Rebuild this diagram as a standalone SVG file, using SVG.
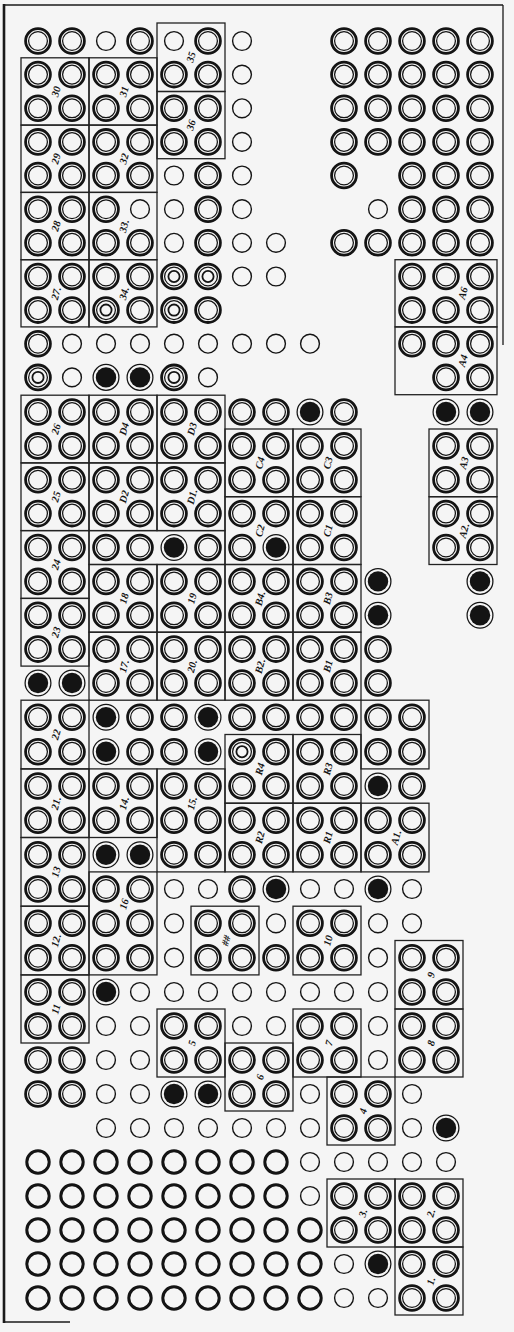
<svg xmlns="http://www.w3.org/2000/svg" width="514" height="1332" viewBox="0 0 514 1332">
<style>
.k{fill:none;stroke:#141414;stroke-width:2.8}
.t{fill:none;stroke:#141414;stroke-width:1.25}
.s{fill:none;stroke:#141414;stroke-width:1.4}
.m{fill:none;stroke:#141414;stroke-width:1.8}
.b{fill:none;stroke:#141414;stroke-width:3}
.bx{fill:none;stroke:#222;stroke-width:1.3}
.lb{font-family:"Liberation Serif","DejaVu Serif",serif;font-size:10.5px;font-style:italic;font-weight:bold;fill:#151515;text-anchor:middle;dominant-baseline:central}
.fr{fill:none;stroke:#1a1a1a}
</style>
<defs>
<g id="D"><circle r="12.4" class="k"/><circle r="9.4" class="t"/></g>
<g id="S"><circle r="9.4" class="s"/></g>
<g id="F"><circle r="12.9" class="t"/><circle r="10.2" fill="#141414"/></g>
<g id="T"><circle r="12.4" class="k"/><circle r="9.4" class="t"/><circle r="5.6" class="m"/></g>
<g id="B"><circle r="11.2" class="b"/></g>
</defs>
<rect width="514" height="1332" fill="#f5f5f5"/>
<g id="frame">
<line x1="4" y1="5" x2="503" y2="5" class="fr" stroke-width="1.5"/>
<line x1="4" y1="4" x2="4" y2="1323" class="fr" stroke-width="2.6"/>
<line x1="503" y1="5" x2="503" y2="345" class="fr" stroke-width="1.3"/>
<line x1="4" y1="1322" x2="70" y2="1322" class="fr" stroke-width="1.5"/>
</g>
<g id="grid">
<g transform="translate(0,41)"><use href="#D" x="38"/><use href="#D" x="72"/><use href="#S" x="106"/><use href="#D" x="140"/><use href="#S" x="174"/><use href="#D" x="208"/><use href="#S" x="242"/><use href="#D" x="344"/><use href="#D" x="378"/><use href="#D" x="412"/><use href="#D" x="446"/><use href="#D" x="480"/></g>
<g transform="translate(0,74.6)"><use href="#D" x="38"/><use href="#D" x="72"/><use href="#D" x="106"/><use href="#D" x="140"/><use href="#D" x="174"/><use href="#D" x="208"/><use href="#S" x="242"/><use href="#D" x="344"/><use href="#D" x="378"/><use href="#D" x="412"/><use href="#D" x="446"/><use href="#D" x="480"/></g>
<g transform="translate(0,108.3)"><use href="#D" x="38"/><use href="#D" x="72"/><use href="#D" x="106"/><use href="#D" x="140"/><use href="#D" x="174"/><use href="#D" x="208"/><use href="#S" x="242"/><use href="#D" x="344"/><use href="#D" x="378"/><use href="#D" x="412"/><use href="#D" x="446"/><use href="#D" x="480"/></g>
<g transform="translate(0,141.9)"><use href="#D" x="38"/><use href="#D" x="72"/><use href="#D" x="106"/><use href="#D" x="140"/><use href="#D" x="174"/><use href="#D" x="208"/><use href="#S" x="242"/><use href="#D" x="344"/><use href="#D" x="378"/><use href="#D" x="412"/><use href="#D" x="446"/><use href="#D" x="480"/></g>
<g transform="translate(0,175.5)"><use href="#D" x="38"/><use href="#D" x="72"/><use href="#D" x="106"/><use href="#D" x="140"/><use href="#S" x="174"/><use href="#D" x="208"/><use href="#S" x="242"/><use href="#D" x="344"/><use href="#D" x="412"/><use href="#D" x="446"/><use href="#D" x="480"/></g>
<g transform="translate(0,209.2)"><use href="#D" x="38"/><use href="#D" x="72"/><use href="#D" x="106"/><use href="#S" x="140"/><use href="#S" x="174"/><use href="#D" x="208"/><use href="#S" x="242"/><use href="#S" x="378"/><use href="#D" x="412"/><use href="#D" x="446"/><use href="#D" x="480"/></g>
<g transform="translate(0,242.8)"><use href="#D" x="38"/><use href="#D" x="72"/><use href="#D" x="106"/><use href="#D" x="140"/><use href="#S" x="174"/><use href="#D" x="208"/><use href="#S" x="242"/><use href="#S" x="276"/><use href="#D" x="344"/><use href="#D" x="378"/><use href="#D" x="412"/><use href="#D" x="446"/><use href="#D" x="480"/></g>
<g transform="translate(0,276.5)"><use href="#D" x="38"/><use href="#D" x="72"/><use href="#D" x="106"/><use href="#D" x="140"/><use href="#T" x="174"/><use href="#T" x="208"/><use href="#S" x="242"/><use href="#S" x="276"/><use href="#D" x="412"/><use href="#D" x="446"/><use href="#D" x="480"/></g>
<g transform="translate(0,310.1)"><use href="#D" x="38"/><use href="#D" x="72"/><use href="#T" x="106"/><use href="#D" x="140"/><use href="#T" x="174"/><use href="#D" x="208"/><use href="#D" x="412"/><use href="#D" x="446"/><use href="#D" x="480"/></g>
<g transform="translate(0,343.7)"><use href="#D" x="38"/><use href="#S" x="72"/><use href="#S" x="106"/><use href="#S" x="140"/><use href="#S" x="174"/><use href="#S" x="208"/><use href="#S" x="242"/><use href="#S" x="276"/><use href="#S" x="310"/><use href="#D" x="412"/><use href="#D" x="446"/><use href="#D" x="480"/></g>
<g transform="translate(0,377.4)"><use href="#T" x="38"/><use href="#S" x="72"/><use href="#F" x="106"/><use href="#F" x="140"/><use href="#T" x="174"/><use href="#S" x="208"/><use href="#D" x="446"/><use href="#D" x="480"/></g>
<g transform="translate(0,412)"><use href="#D" x="38"/><use href="#D" x="72"/><use href="#D" x="106"/><use href="#D" x="140"/><use href="#D" x="174"/><use href="#D" x="208"/><use href="#D" x="242"/><use href="#D" x="276"/><use href="#F" x="310"/><use href="#D" x="344"/><use href="#F" x="446"/><use href="#F" x="480"/></g>
<g transform="translate(0,445.9)"><use href="#D" x="38"/><use href="#D" x="72"/><use href="#D" x="106"/><use href="#D" x="140"/><use href="#D" x="174"/><use href="#D" x="208"/><use href="#D" x="242"/><use href="#D" x="276"/><use href="#D" x="310"/><use href="#D" x="344"/><use href="#D" x="446"/><use href="#D" x="480"/></g>
<g transform="translate(0,479.8)"><use href="#D" x="38"/><use href="#D" x="72"/><use href="#D" x="106"/><use href="#D" x="140"/><use href="#D" x="174"/><use href="#D" x="208"/><use href="#D" x="242"/><use href="#D" x="276"/><use href="#D" x="310"/><use href="#D" x="344"/><use href="#D" x="446"/><use href="#D" x="480"/></g>
<g transform="translate(0,513.6)"><use href="#D" x="38"/><use href="#D" x="72"/><use href="#D" x="106"/><use href="#D" x="140"/><use href="#D" x="174"/><use href="#D" x="208"/><use href="#D" x="242"/><use href="#D" x="276"/><use href="#D" x="310"/><use href="#D" x="344"/><use href="#D" x="446"/><use href="#D" x="480"/></g>
<g transform="translate(0,547.5)"><use href="#D" x="38"/><use href="#D" x="72"/><use href="#D" x="106"/><use href="#D" x="140"/><use href="#F" x="174"/><use href="#D" x="208"/><use href="#D" x="242"/><use href="#F" x="276"/><use href="#D" x="310"/><use href="#D" x="344"/><use href="#D" x="446"/><use href="#D" x="480"/></g>
<g transform="translate(0,581.4)"><use href="#D" x="38"/><use href="#D" x="72"/><use href="#D" x="106"/><use href="#D" x="140"/><use href="#D" x="174"/><use href="#D" x="208"/><use href="#D" x="242"/><use href="#D" x="276"/><use href="#D" x="310"/><use href="#D" x="344"/><use href="#F" x="378"/><use href="#F" x="480"/></g>
<g transform="translate(0,615.3)"><use href="#D" x="38"/><use href="#D" x="72"/><use href="#D" x="106"/><use href="#D" x="140"/><use href="#D" x="174"/><use href="#D" x="208"/><use href="#D" x="242"/><use href="#D" x="276"/><use href="#D" x="310"/><use href="#D" x="344"/><use href="#F" x="378"/><use href="#F" x="480"/></g>
<g transform="translate(0,649.1)"><use href="#D" x="38"/><use href="#D" x="72"/><use href="#D" x="106"/><use href="#D" x="140"/><use href="#D" x="174"/><use href="#D" x="208"/><use href="#D" x="242"/><use href="#D" x="276"/><use href="#D" x="310"/><use href="#D" x="344"/><use href="#D" x="378"/></g>
<g transform="translate(0,683)"><use href="#F" x="38"/><use href="#F" x="72"/><use href="#D" x="106"/><use href="#D" x="140"/><use href="#D" x="174"/><use href="#D" x="208"/><use href="#D" x="242"/><use href="#D" x="276"/><use href="#D" x="310"/><use href="#D" x="344"/><use href="#D" x="378"/></g>
<g transform="translate(0,717.3)"><use href="#D" x="38"/><use href="#D" x="72"/><use href="#F" x="106"/><use href="#D" x="140"/><use href="#D" x="174"/><use href="#F" x="208"/><use href="#D" x="242"/><use href="#D" x="276"/><use href="#D" x="310"/><use href="#D" x="344"/><use href="#D" x="378"/><use href="#D" x="412"/></g>
<g transform="translate(0,751.7)"><use href="#D" x="38"/><use href="#D" x="72"/><use href="#F" x="106"/><use href="#D" x="140"/><use href="#D" x="174"/><use href="#F" x="208"/><use href="#T" x="242"/><use href="#D" x="276"/><use href="#D" x="310"/><use href="#D" x="344"/><use href="#D" x="378"/><use href="#D" x="412"/></g>
<g transform="translate(0,786)"><use href="#D" x="38"/><use href="#D" x="72"/><use href="#D" x="106"/><use href="#D" x="140"/><use href="#D" x="174"/><use href="#D" x="208"/><use href="#D" x="242"/><use href="#D" x="276"/><use href="#D" x="310"/><use href="#D" x="344"/><use href="#F" x="378"/><use href="#D" x="412"/></g>
<g transform="translate(0,820.3)"><use href="#D" x="38"/><use href="#D" x="72"/><use href="#D" x="106"/><use href="#D" x="140"/><use href="#D" x="174"/><use href="#D" x="208"/><use href="#D" x="242"/><use href="#D" x="276"/><use href="#D" x="310"/><use href="#D" x="344"/><use href="#D" x="378"/><use href="#D" x="412"/></g>
<g transform="translate(0,854.7)"><use href="#D" x="38"/><use href="#D" x="72"/><use href="#F" x="106"/><use href="#F" x="140"/><use href="#D" x="174"/><use href="#D" x="208"/><use href="#D" x="242"/><use href="#D" x="276"/><use href="#D" x="310"/><use href="#D" x="344"/><use href="#D" x="378"/><use href="#D" x="412"/></g>
<g transform="translate(0,889)"><use href="#D" x="38"/><use href="#D" x="72"/><use href="#D" x="106"/><use href="#D" x="140"/><use href="#S" x="174"/><use href="#S" x="208"/><use href="#D" x="242"/><use href="#F" x="276"/><use href="#S" x="310"/><use href="#S" x="344"/><use href="#F" x="378"/><use href="#S" x="412"/></g>
<g transform="translate(0,923.3)"><use href="#D" x="38"/><use href="#D" x="72"/><use href="#D" x="106"/><use href="#D" x="140"/><use href="#S" x="174"/><use href="#D" x="208"/><use href="#D" x="242"/><use href="#S" x="276"/><use href="#D" x="310"/><use href="#D" x="344"/><use href="#S" x="378"/><use href="#S" x="412"/></g>
<g transform="translate(0,957.7)"><use href="#D" x="38"/><use href="#D" x="72"/><use href="#D" x="106"/><use href="#D" x="140"/><use href="#S" x="174"/><use href="#D" x="208"/><use href="#D" x="242"/><use href="#D" x="276"/><use href="#D" x="310"/><use href="#D" x="344"/><use href="#S" x="378"/><use href="#D" x="412"/><use href="#D" x="446"/></g>
<g transform="translate(0,992)"><use href="#D" x="38"/><use href="#D" x="72"/><use href="#F" x="106"/><use href="#S" x="140"/><use href="#S" x="174"/><use href="#S" x="208"/><use href="#S" x="242"/><use href="#S" x="276"/><use href="#S" x="310"/><use href="#S" x="344"/><use href="#S" x="378"/><use href="#D" x="412"/><use href="#D" x="446"/></g>
<g transform="translate(0,1026)"><use href="#D" x="38"/><use href="#D" x="72"/><use href="#S" x="106"/><use href="#S" x="140"/><use href="#D" x="174"/><use href="#D" x="208"/><use href="#S" x="242"/><use href="#S" x="276"/><use href="#D" x="310"/><use href="#D" x="344"/><use href="#S" x="378"/><use href="#D" x="412"/><use href="#D" x="446"/></g>
<g transform="translate(0,1060)"><use href="#D" x="38"/><use href="#D" x="72"/><use href="#S" x="106"/><use href="#S" x="140"/><use href="#D" x="174"/><use href="#D" x="208"/><use href="#D" x="242"/><use href="#D" x="276"/><use href="#D" x="310"/><use href="#D" x="344"/><use href="#S" x="378"/><use href="#D" x="412"/><use href="#D" x="446"/></g>
<g transform="translate(0,1094)"><use href="#D" x="38"/><use href="#D" x="72"/><use href="#S" x="106"/><use href="#S" x="140"/><use href="#F" x="174"/><use href="#F" x="208"/><use href="#D" x="242"/><use href="#D" x="276"/><use href="#S" x="310"/><use href="#D" x="344"/><use href="#D" x="378"/><use href="#S" x="412"/></g>
<g transform="translate(0,1128)"><use href="#S" x="106"/><use href="#S" x="140"/><use href="#S" x="174"/><use href="#S" x="208"/><use href="#S" x="242"/><use href="#S" x="276"/><use href="#S" x="310"/><use href="#D" x="344"/><use href="#D" x="378"/><use href="#S" x="412"/><use href="#F" x="446"/></g>
<g transform="translate(0,1162)"><use href="#B" x="38"/><use href="#B" x="72"/><use href="#B" x="106"/><use href="#B" x="140"/><use href="#B" x="174"/><use href="#B" x="208"/><use href="#B" x="242"/><use href="#B" x="276"/><use href="#S" x="310"/><use href="#S" x="344"/><use href="#S" x="378"/><use href="#S" x="412"/><use href="#S" x="446"/></g>
<g transform="translate(0,1196)"><use href="#B" x="38"/><use href="#B" x="72"/><use href="#B" x="106"/><use href="#B" x="140"/><use href="#B" x="174"/><use href="#B" x="208"/><use href="#B" x="242"/><use href="#B" x="276"/><use href="#S" x="310"/><use href="#D" x="344"/><use href="#D" x="378"/><use href="#D" x="412"/><use href="#D" x="446"/></g>
<g transform="translate(0,1230)"><use href="#B" x="38"/><use href="#B" x="72"/><use href="#B" x="106"/><use href="#B" x="140"/><use href="#B" x="174"/><use href="#B" x="208"/><use href="#B" x="242"/><use href="#B" x="276"/><use href="#B" x="310"/><use href="#D" x="344"/><use href="#D" x="378"/><use href="#D" x="412"/><use href="#D" x="446"/></g>
<g transform="translate(0,1264)"><use href="#B" x="38"/><use href="#B" x="72"/><use href="#B" x="106"/><use href="#B" x="140"/><use href="#B" x="174"/><use href="#B" x="208"/><use href="#B" x="242"/><use href="#B" x="276"/><use href="#B" x="310"/><use href="#S" x="344"/><use href="#F" x="378"/><use href="#D" x="412"/><use href="#D" x="446"/></g>
<g transform="translate(0,1298)"><use href="#B" x="38"/><use href="#B" x="72"/><use href="#B" x="106"/><use href="#B" x="140"/><use href="#B" x="174"/><use href="#B" x="208"/><use href="#B" x="242"/><use href="#B" x="276"/><use href="#B" x="310"/><use href="#S" x="344"/><use href="#S" x="378"/><use href="#D" x="412"/><use href="#D" x="446"/></g>
</g>
<g id="connectors"></g>
<g id="boxes">
<g id="box-35"><rect class="bx" x="157" y="23" width="68" height="68.5"/><text class="lb" transform="translate(191,57) rotate(-75)">35</text></g>
<g id="box-36"><rect class="bx" x="157" y="91.5" width="68" height="67.2"/><text class="lb" transform="translate(191,125) rotate(-75)">36</text></g>
<g id="box-30"><rect class="bx" x="21" y="57.8" width="68" height="67.3"/><text class="lb" transform="translate(56,91.5) rotate(-75)">30</text></g>
<g id="box-31"><rect class="bx" x="89" y="57.8" width="68" height="67.3"/><text class="lb" transform="translate(124,91.5) rotate(-75)">31</text></g>
<g id="box-29"><rect class="bx" x="21" y="125.1" width="68" height="67.3"/><text class="lb" transform="translate(56,158.7) rotate(-75)">29</text></g>
<g id="box-32"><rect class="bx" x="89" y="125.1" width="68" height="67.3"/><text class="lb" transform="translate(124,158.7) rotate(-75)">32</text></g>
<g id="box-28"><rect class="bx" x="21" y="192.4" width="68" height="67.3"/><text class="lb" transform="translate(56,226) rotate(-75)">28</text></g>
<g id="box-33"><rect class="bx" x="89" y="192.4" width="68" height="67.3"/><text class="lb" transform="translate(124,226) rotate(-75)">33.</text></g>
<g id="box-27"><rect class="bx" x="21" y="259.7" width="68" height="67.2"/><text class="lb" transform="translate(56,293.3) rotate(-75)">27.</text></g>
<g id="box-34"><rect class="bx" x="89" y="259.7" width="68" height="67.2"/><text class="lb" transform="translate(124,293.3) rotate(-75)">34.</text></g>
<g id="box-A6"><rect class="bx" x="395" y="259.7" width="102" height="67.2"/><text class="lb" transform="translate(463,293.3) rotate(-75)">A6</text></g>
<g id="box-A4"><rect class="bx" x="395" y="326.9" width="102" height="67.8"/><text class="lb" transform="translate(463,360.6) rotate(-75)">A4</text></g>
<g id="box-26"><rect class="bx" x="21" y="395.2" width="68" height="67.7"/><text class="lb" transform="translate(56,429) rotate(-75)">26</text></g>
<g id="box-D4"><rect class="bx" x="89" y="395.2" width="68" height="67.7"/><text class="lb" transform="translate(124,429) rotate(-75)">D4</text></g>
<g id="box-D3"><rect class="bx" x="157" y="395.2" width="68" height="67.7"/><text class="lb" transform="translate(192,429) rotate(-75)">D3</text></g>
<g id="box-25"><rect class="bx" x="21" y="462.9" width="68" height="67.7"/><text class="lb" transform="translate(56,496.7) rotate(-75)">25</text></g>
<g id="box-D2"><rect class="bx" x="89" y="462.9" width="68" height="67.7"/><text class="lb" transform="translate(124,496.7) rotate(-75)">D2</text></g>
<g id="box-D1"><rect class="bx" x="157" y="462.9" width="68" height="67.7"/><text class="lb" transform="translate(192,496.7) rotate(-75)">D1.</text></g>
<g id="box-24"><rect class="bx" x="21" y="530.6" width="68" height="67.8"/><text class="lb" transform="translate(56,564.5) rotate(-75)">24</text></g>
<g id="strip-16"><rect class="bx" x="89" y="530.6" width="136" height="33.9"/></g>
<g id="box-23"><rect class="bx" x="21" y="598.4" width="68" height="67.7"/><text class="lb" transform="translate(56,632.2) rotate(-75)">23</text></g>
<g id="box-18"><rect class="bx" x="89" y="564.5" width="68" height="67.7"/><text class="lb" transform="translate(124,598.4) rotate(-75)">18</text></g>
<g id="box-19"><rect class="bx" x="157" y="564.5" width="68" height="67.7"/><text class="lb" transform="translate(192,598.4) rotate(-75)">19</text></g>
<g id="box-17"><rect class="bx" x="89" y="632.2" width="68" height="68"/><text class="lb" transform="translate(124,666.1) rotate(-75)">17.</text></g>
<g id="box-20"><rect class="bx" x="157" y="632.2" width="68" height="68"/><text class="lb" transform="translate(192,666.1) rotate(-75)">20.</text></g>
<g id="box-C4"><rect class="bx" x="225" y="429" width="68" height="67.7"/><text class="lb" transform="translate(260,462.9) rotate(-75)">C4</text></g>
<g id="box-C3"><rect class="bx" x="293" y="429" width="68" height="67.7"/><text class="lb" transform="translate(328,462.9) rotate(-75)">C3</text></g>
<g id="box-C2"><rect class="bx" x="225" y="496.7" width="68" height="67.8"/><text class="lb" transform="translate(260,530.6) rotate(-75)">C2</text></g>
<g id="box-C1"><rect class="bx" x="293" y="496.7" width="68" height="67.8"/><text class="lb" transform="translate(328,530.6) rotate(-75)">C1</text></g>
<g id="box-B4"><rect class="bx" x="225" y="564.5" width="68" height="67.7"/><text class="lb" transform="translate(260,598.4) rotate(-75)">B4.</text></g>
<g id="box-B3"><rect class="bx" x="293" y="564.5" width="68" height="67.7"/><text class="lb" transform="translate(328,598.4) rotate(-75)">B3</text></g>
<g id="box-B2"><rect class="bx" x="225" y="632.2" width="68" height="68"/><text class="lb" transform="translate(260,666.1) rotate(-75)">B2.</text></g>
<g id="box-B1"><rect class="bx" x="293" y="632.2" width="68" height="68"/><text class="lb" transform="translate(328,666.1) rotate(-75)">B1</text></g>
<g id="box-A3"><rect class="bx" x="429" y="429" width="68" height="67.7"/><text class="lb" transform="translate(464,462.9) rotate(-75)">A3</text></g>
<g id="box-A2"><rect class="bx" x="429" y="496.7" width="68" height="67.8"/><text class="lb" transform="translate(464,530.6) rotate(-75)">A2.</text></g>
<g id="box-22"><rect class="bx" x="21" y="700.2" width="68" height="68.7"/><text class="lb" transform="translate(56,734.5) rotate(-75)">22</text></g>
<g id="box-blank"><rect class="bx" x="361" y="700.2" width="68" height="68.7"/></g>
<g id="box-21"><rect class="bx" x="21" y="768.9" width="68" height="68.6"/><text class="lb" transform="translate(56,803.2) rotate(-75)">21.</text></g>
<g id="box-14"><rect class="bx" x="89" y="768.9" width="68" height="68.6"/><text class="lb" transform="translate(124,803.2) rotate(-75)">14.</text></g>
<g id="box-15"><rect class="bx" x="157" y="768.9" width="68" height="103"/><text class="lb" transform="translate(192,803.2) rotate(-75)">15.</text></g>
<g id="box-R4"><rect class="bx" x="225" y="734.5" width="68" height="68.7"/><text class="lb" transform="translate(260,768.9) rotate(-75)">R4</text></g>
<g id="box-R3"><rect class="bx" x="293" y="734.5" width="68" height="68.7"/><text class="lb" transform="translate(328,768.9) rotate(-75)">R3</text></g>
<g id="box-R2"><rect class="bx" x="225" y="803.2" width="68" height="68.7"/><text class="lb" transform="translate(260,837.5) rotate(-75)">R2</text></g>
<g id="box-R1"><rect class="bx" x="293" y="803.2" width="68" height="68.7"/><text class="lb" transform="translate(328,837.5) rotate(-75)">R1</text></g>
<g id="box-A1"><rect class="bx" x="361" y="803.2" width="68" height="68.7"/><text class="lb" transform="translate(396,837.5) rotate(-75)">A1.</text></g>
<g id="box-13"><rect class="bx" x="21" y="837.5" width="68" height="68.7"/><text class="lb" transform="translate(56,871.9) rotate(-75)">13</text></g>
<g id="box-16"><rect class="bx" x="89" y="871.9" width="68" height="103"/><text class="lb" transform="translate(124,904) rotate(-75)">16</text></g>
<g id="box-12"><rect class="bx" x="21" y="906.2" width="68" height="68.7"/><text class="lb" transform="translate(56,940.5) rotate(-75)">12.</text></g>
<g id="box-hash"><rect class="bx" x="191" y="906.2" width="68" height="68.7"/><text class="lb" transform="translate(226,940.5) rotate(-75)">##</text></g>
<g id="box-10"><rect class="bx" x="293" y="906.2" width="68" height="68.7"/><text class="lb" transform="translate(328,940.5) rotate(-75)">10</text></g>
<g id="box-11"><rect class="bx" x="21" y="974.9" width="68" height="68.1"/><text class="lb" transform="translate(56,1009) rotate(-75)">11</text></g>
<g id="box-9"><rect class="bx" x="395" y="940.5" width="68" height="68.5"/><text class="lb" transform="translate(431,974.9) rotate(-75)">9</text></g>
<g id="box-8"><rect class="bx" x="395" y="1009" width="68" height="68"/><text class="lb" transform="translate(431,1043) rotate(-75)">8</text></g>
<g id="box-7"><rect class="bx" x="293" y="1009" width="68" height="68"/><text class="lb" transform="translate(329,1043) rotate(-75)">7</text></g>
<g id="box-6"><rect class="bx" x="225" y="1043" width="68" height="68"/><text class="lb" transform="translate(260,1077) rotate(-75)">6</text></g>
<g id="box-5"><rect class="bx" x="157" y="1009" width="68" height="68"/><text class="lb" transform="translate(192,1043) rotate(-75)">5</text></g>
<g id="box-4"><rect class="bx" x="327" y="1077" width="68" height="68"/><text class="lb" transform="translate(363,1111) rotate(-75)">4</text></g>
<g id="box-3"><rect class="bx" x="327" y="1179" width="68" height="68"/><text class="lb" transform="translate(363,1213) rotate(-75)">3.</text></g>
<g id="box-2"><rect class="bx" x="395" y="1179" width="68" height="68"/><text class="lb" transform="translate(431,1213) rotate(-75)">2.</text></g>
<g id="box-1"><rect class="bx" x="395" y="1247" width="68" height="68"/><text class="lb" transform="translate(431,1281) rotate(-75)">1.</text></g>
</g>
</svg>
